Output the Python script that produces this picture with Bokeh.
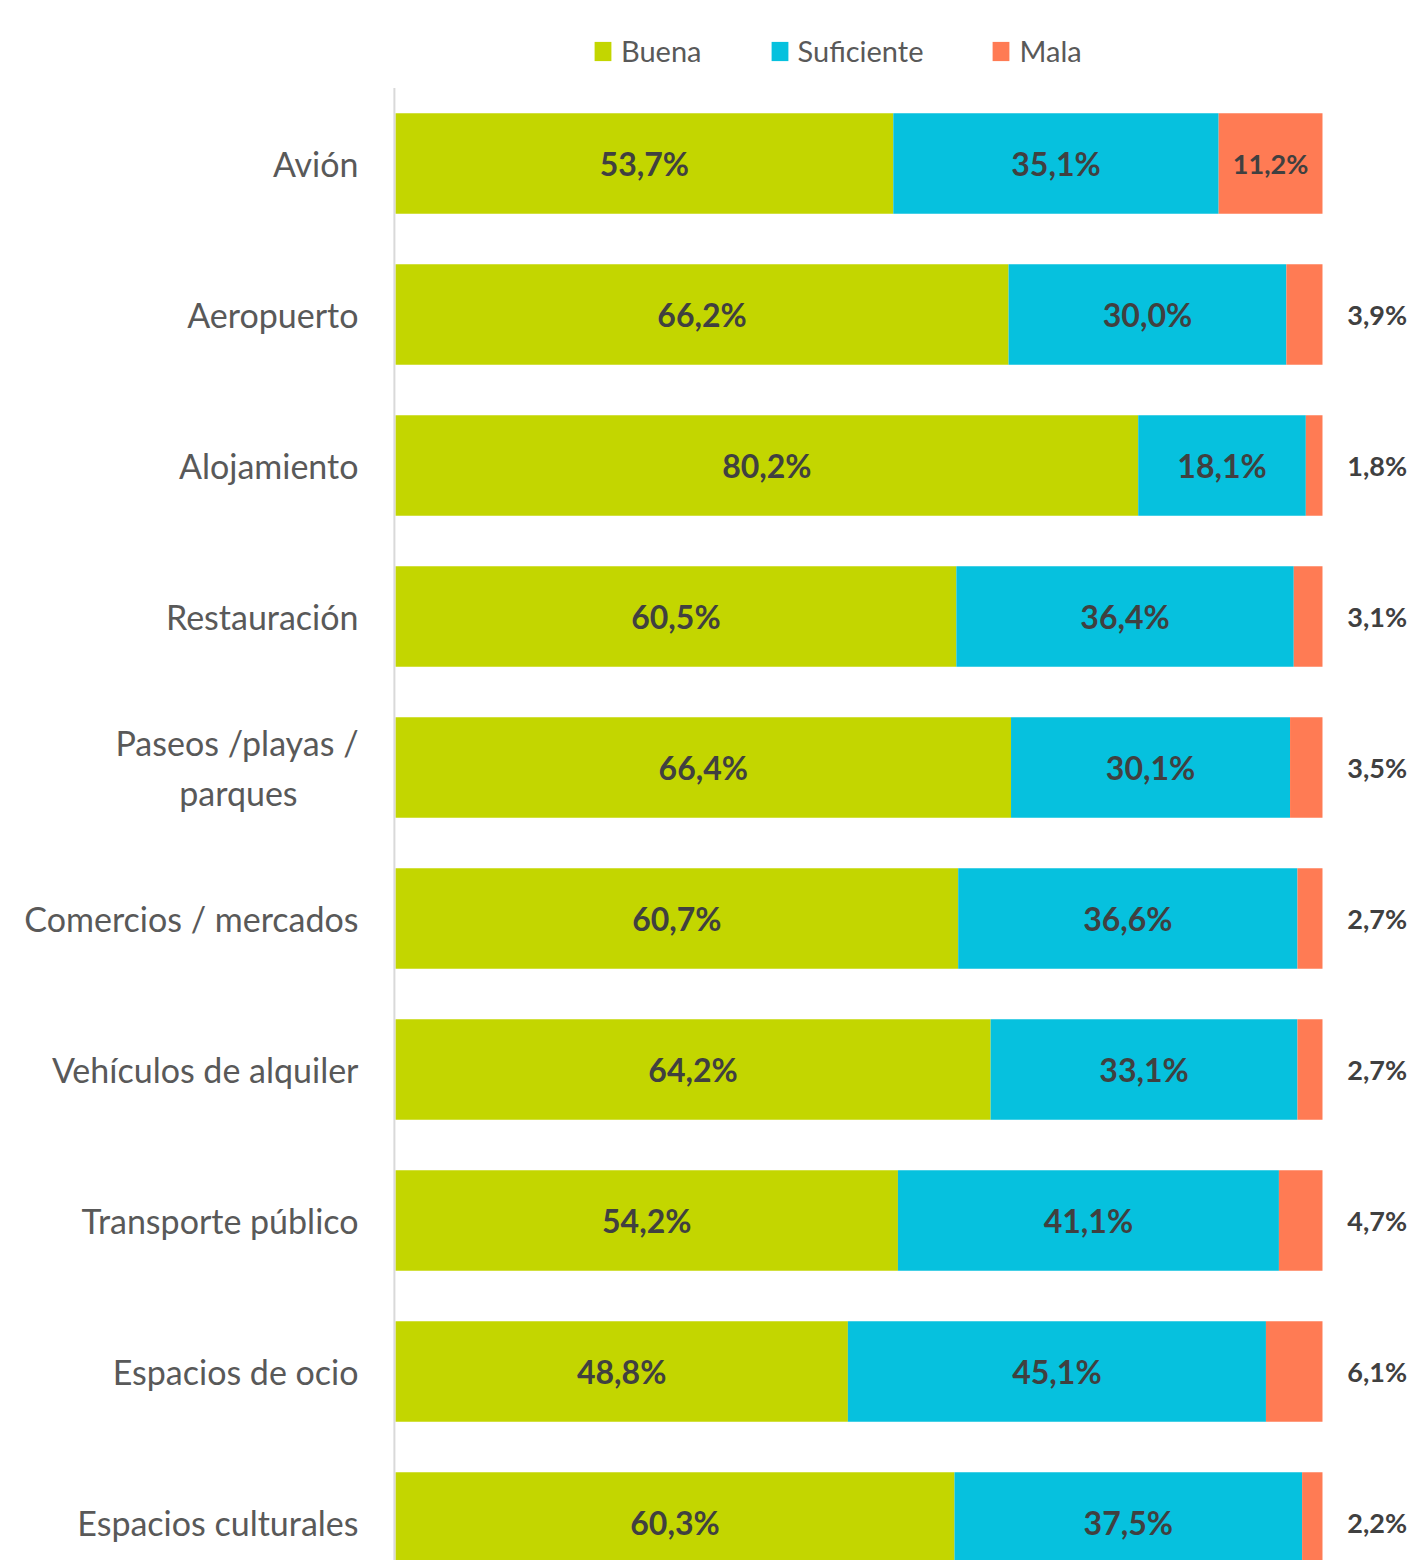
from bokeh.plotting import figure
from bokeh.models import ColumnDataSource, Range1d, FixedTicker, Legend, LegendItem
from bokeh.core.properties import value
from bokeh.embed import file_html
from bokeh.resources import INLINE

NB = "\u00a0"
categories = ["Avión", "Aeropuerto", "Alojamiento", "Restauración",
              "Paseos /playas /\nparques" + NB * 7, "Comercios / mercados",
              "Vehículos de alquiler", "Transporte público",
              "Espacios de ocio", "Espacios culturales"]
buena = [53.7, 66.2, 80.2, 60.5, 66.4, 60.7, 64.2, 54.2, 48.8, 60.3]
suficiente = [35.1, 30.0, 18.1, 36.4, 30.1, 36.6, 33.1, 41.1, 45.1, 37.5]
mala = [11.2, 3.9, 1.8, 3.1, 3.5, 2.7, 2.7, 4.7, 6.1, 2.2]
series_names = ["Buena", "Suficiente", "Mala"]
colors = ["#C3D600", "#06C1DE", "#FF7B54"]

FONT = "Lato"
LABEL_COLOR = "#404040"
TEXT_COLOR = "#595959"

n = len(categories)
ys = list(range(n))
tot = [b + s + m for b, s, m in zip(buena, suficiente, mala)]
b_n = [b / t * 100 for b, t in zip(buena, tot)]
s_n = [s / t * 100 for s, t in zip(suficiente, tot)]
m_n = [m / t * 100 for m, t in zip(mala, tot)]

left_b = [0.0] * n
right_b = b_n
left_s = right_b
right_s = [a + b for a, b in zip(left_s, s_n)]
left_m = right_s
right_m = [a + b for a, b in zip(left_m, m_n)]

p = figure(width=1407, height=1560, output_backend="svg", toolbar_location=None,
           x_range=Range1d(-0.3236, 109.17), y_range=Range1d(9.2517, -1.0795),
           x_axis_location=None, min_border_left=392, min_border_right=0,
           min_border_top=0, min_border_bottom=0, outline_line_color=None)
p.xgrid.visible = False
p.ygrid.visible = False

bar_h = 0.665
renderers = []
for lft, rgt, col in [(left_b, right_b, colors[0]), (left_s, right_s, colors[1]),
                      (left_m, right_m, colors[2])]:
    src = ColumnDataSource(dict(y=ys, left=lft, right=rgt))
    r = p.hbar(y="y", left="left", right="right", height=bar_h, source=src,
               fill_color=col, line_color=None)
    renderers.append(r)

# vertical category axis line
p.segment(x0=[-0.12], y0=[-0.5], x1=[-0.12], y1=[n + 0.5],
          line_color="#D9D9D9", line_width=2)

def fmt(v):
    return f"{v:.1f}".replace(".", ",") + "%"

# inner labels for Buena and Suficiente
in_x, in_y, in_t = [], [], []
for i in range(n):
    in_x.append((left_b[i] + right_b[i]) / 2); in_y.append(i); in_t.append(fmt(buena[i]))
    in_x.append((left_s[i] + right_s[i]) / 2); in_y.append(i); in_t.append(fmt(suficiente[i]))
p.text(x=in_x, y=in_y, text=in_t, text_align="center", text_baseline="middle",
       text_font=value(FONT), text_font_style="bold", text_font_size="32px",
       text_color=LABEL_COLOR)

# Mala labels: inside if big enough, else outside to the right
mi_x, mi_y, mi_t = [], [], []
mo_x, mo_y, mo_t = [], [], []
for i in range(n):
    if mala[i] >= 8:
        mi_x.append((left_m[i] + right_m[i]) / 2); mi_y.append(i); mi_t.append(fmt(mala[i]))
    else:
        mo_x.append(105.9); mo_y.append(i); mo_t.append(fmt(mala[i]))
p.text(x=mi_x, y=mi_y, text=mi_t, text_align="center", text_baseline="middle",
       text_font=value(FONT), text_font_style="bold", text_font_size="27px",
       text_color=LABEL_COLOR)
p.text(x=mo_x, y=mo_y, text=mo_t, text_align="center", text_baseline="middle",
       text_font=value(FONT), text_font_style="bold", text_font_size="27px",
       text_color=LABEL_COLOR)

ax = p.yaxis[0]
ax.ticker = FixedTicker(ticks=ys)
ax.major_label_overrides = {i: c for i, c in enumerate(categories)}
ax.axis_line_color = None
ax.major_tick_line_color = None
ax.minor_tick_line_color = None
ax.major_tick_out = 0
ax.major_tick_in = 0
ax.major_label_standoff = 34
ax.major_label_text_font = FONT
ax.major_label_text_font_size = "34px"
ax.major_label_text_color = TEXT_COLOR

legend = Legend(items=[LegendItem(label=nm, renderers=[r]) for nm, r in zip(series_names, renderers)],
                orientation="horizontal", location=(200, 1492), spacing=67,
                padding=0, margin=0, border_line_color=None, background_fill_alpha=0,
                glyph_width=21, glyph_height=24, label_standoff=8,
                label_text_font=FONT, label_text_font_size="29px",
                label_text_color=TEXT_COLOR)
p.add_layout(legend)

open("out.html", "w").write(file_html(p, INLINE))
